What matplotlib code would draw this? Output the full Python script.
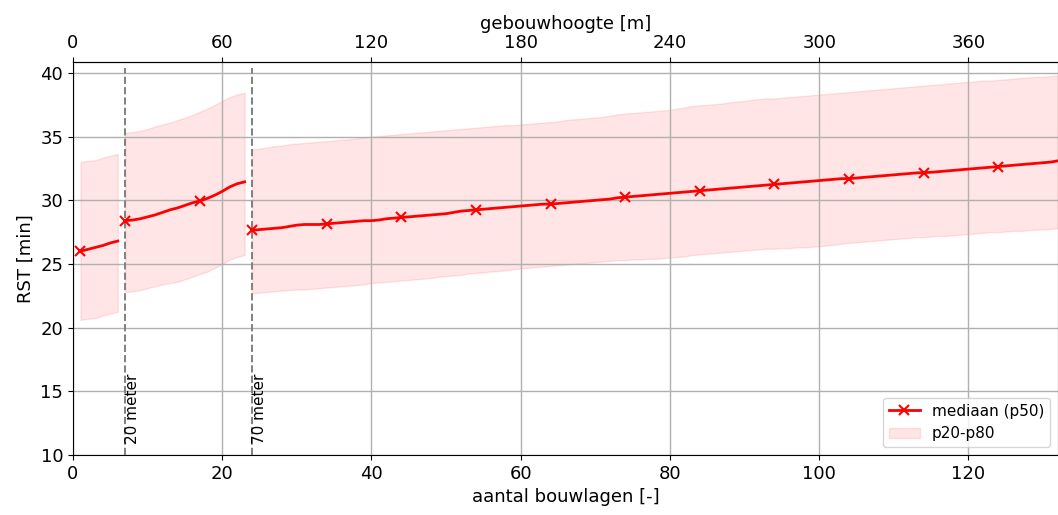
import matplotlib
matplotlib.use("Agg")
import matplotlib.pyplot as plt

# floors per segment (segments split at the 20 m and 70 m limits)
floors_low = list(range(1, 7))
floors_mid = list(range(7, 24))
floors_high = list(range(24, 133))

p50_low = [26.0, 26.15, 26.3, 26.45, 26.65, 26.8]
p80_low = [33.0, 33.1, 33.15, 33.35, 33.5, 33.65]
p20_low = [20.6, 20.7, 20.75, 20.95, 21.1, 21.25]

p50_mid = [28.4, 28.45, 28.55, 28.7, 28.85, 29.05, 29.25, 29.4, 29.6, 29.8,
           29.95, 30.15, 30.4, 30.7, 31.05, 31.3, 31.45]
p80_mid = [35.3, 35.35, 35.45, 35.6, 35.8, 35.95, 36.1, 36.3, 36.5, 36.7,
           36.95, 37.2, 37.5, 37.8, 38.1, 38.3, 38.45]
p20_mid = [22.8, 22.85, 22.95, 23.1, 23.25, 23.4, 23.5, 23.6, 23.8, 24.0,
           24.2, 24.4, 24.7, 25.0, 25.35, 25.55, 25.7]

p50_high = [
    27.65, 27.7, 27.75, 27.8, 27.85, 27.95, 28.05, 28.1, 28.1, 28.1,
    28.15, 28.2, 28.25, 28.3, 28.35, 28.4, 28.4, 28.45, 28.55, 28.6,
    28.65, 28.7, 28.75, 28.8, 28.85, 28.9, 28.95, 29.05, 29.15, 29.2,
    29.25, 29.3, 29.35, 29.4, 29.45, 29.5, 29.55, 29.6, 29.65, 29.7,
    29.7, 29.75, 29.8, 29.85, 29.9, 29.95, 30.0, 30.05, 30.1, 30.2,
    30.25, 30.3, 30.35, 30.4, 30.45, 30.5, 30.55, 30.6, 30.65, 30.7,
    30.75, 30.8, 30.85, 30.9, 30.95, 31.0, 31.05, 31.1, 31.15, 31.2,
    31.25, 31.3, 31.35, 31.4, 31.45, 31.5, 31.55, 31.6, 31.65, 31.7,
    31.7, 31.75, 31.8, 31.85, 31.9, 31.95, 32.0, 32.05, 32.1, 32.15,
    32.17, 32.2, 32.25, 32.3, 32.35, 32.4, 32.45, 32.5, 32.55, 32.6,
    32.65, 32.7, 32.75, 32.8, 32.85, 32.9, 32.95, 33.0, 33.1]
p80_high = [
    34.0, 34.05, 34.15, 34.25, 34.3, 34.4, 34.45, 34.5, 34.55, 34.6,
    34.65, 34.7, 34.75, 34.8, 34.85, 34.95, 35.0, 35.05, 35.1, 35.15,
    35.2, 35.25, 35.3, 35.35, 35.4, 35.45, 35.5, 35.55, 35.6, 35.65,
    35.7, 35.75, 35.8, 35.85, 35.9, 35.9, 35.95, 36.0, 36.05, 36.1,
    36.15, 36.2, 36.3, 36.35, 36.4, 36.45, 36.5, 36.55, 36.65, 36.75,
    36.8, 36.85, 36.9, 36.95, 37.0, 37.05, 37.1, 37.2, 37.3, 37.4,
    37.45, 37.5, 37.55, 37.6, 37.7, 37.75, 37.8, 37.9, 37.95, 38.0,
    38.0, 38.05, 38.1, 38.15, 38.2, 38.25, 38.3, 38.35, 38.4, 38.45,
    38.5, 38.55, 38.6, 38.65, 38.7, 38.75, 38.8, 38.85, 38.9, 38.95,
    39.0, 39.05, 39.1, 39.15, 39.2, 39.25, 39.3, 39.35, 39.4, 39.4,
    39.45, 39.5, 39.55, 39.6, 39.65, 39.7, 39.7, 39.75, 39.8]
p20_high = [
    22.7, 22.75, 22.8, 22.85, 22.9, 22.95, 23.0, 23.0, 23.05, 23.1,
    23.15, 23.2, 23.25, 23.3, 23.35, 23.4, 23.5, 23.55, 23.6, 23.65,
    23.7, 23.75, 23.8, 23.85, 23.9, 24.0, 24.05, 24.1, 24.15, 24.25,
    24.3, 24.35, 24.4, 24.45, 24.5, 24.6, 24.65, 24.7, 24.75, 24.8,
    24.85, 24.9, 24.95, 25.0, 25.05, 25.1, 25.15, 25.2, 25.25, 25.3,
    25.3, 25.35, 25.35, 25.4, 25.4, 25.45, 25.5, 25.55, 25.6, 25.7,
    25.75, 25.8, 25.85, 25.9, 25.95, 26.0, 26.05, 26.1, 26.15, 26.2,
    26.2, 26.25, 26.25, 26.3, 26.3, 26.35, 26.4, 26.45, 26.5, 26.6,
    26.65, 26.7, 26.75, 26.8, 26.85, 26.9, 26.95, 27.0, 27.05, 27.1,
    27.1, 27.15, 27.2, 27.2, 27.25, 27.3, 27.35, 27.4, 27.45, 27.5,
    27.5, 27.55, 27.6, 27.6, 27.65, 27.7, 27.7, 27.75, 27.8]

limit_floors = [7, 24]
limit_labels = ["20 meter", "70 meter"]
floor_height = 3  # m per bouwlaag

segments = [
    (floors_low, p20_low, p50_low, p80_low),
    (floors_mid, p20_mid, p50_mid, p80_mid),
    (floors_high, p20_high, p50_high, p80_high),
]

fig = plt.figure(figsize=(10.58, 5.15), dpi=100)
ax = fig.add_axes([73 / 1058, 60 / 515, 985 / 1058, 393 / 515])

for i, (x, lo, med, hi) in enumerate(segments):
    ax.plot(x, med, color="red", lw=2, marker="x", ms=6.5, mew=1.5,
            markevery=10, label="mediaan (p50)" if i == 0 else None, zorder=3)
    ax.fill_between(x, lo, hi, color="red", alpha=0.1,
                    label="p20-p80" if i == 0 else None)

for xf, txt in zip(limit_floors, limit_labels):
    ax.axvline(xf, ymax=0.985, color="gray", ls="--", lw=1.4)
    ax.text(xf, 10.9, txt, rotation=90, ha="left", va="bottom", fontsize=11)

ax.set_xlim(0, 132)
ax.set_ylim(10, 40.86)
ax.set_yticks(range(10, 41, 5))
ax.set_xticks(range(0, 121, 20))
ax.grid(True, color="#b0b0b0", lw=1)
ax.tick_params(labelsize=13)
ax.set_xlabel("aantal bouwlagen [-]", fontsize=13)
ax.set_ylabel("RST [min]", fontsize=13)

top = ax.secondary_xaxis("top", functions=(lambda x: x * floor_height,
                                            lambda x: x / floor_height))
top.set_xticks(range(0, 361, 60))
top.tick_params(labelsize=13)
top.set_xlabel("gebouwhoogte [m]", fontsize=13)

ax.legend(loc="lower right", fontsize=11)

fig.savefig("out.png", dpi=100)
